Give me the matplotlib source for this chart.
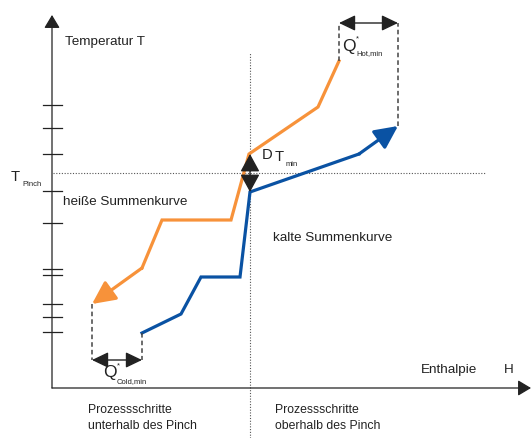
import matplotlib.pyplot as plt
from matplotlib.patches import ArrowStyle

plt.rcParams['font.family'] = ['Liberation Sans', 'DejaVu Sans']

# hot composite curve (H, T), drawn from hot end to cold end
hot_H = [339, 318, 249, 231, 162, 142, 92]
hot_T = [377, 331, 284, 218, 218, 170, 134]
# cold composite curve
cold_H = [142, 181, 201, 240, 250, 359, 398]
cold_T = [105, 124, 161, 161, 246, 284, 312]
# tick marks on the temperature axis
tick_T = [333, 310, 284, 247, 215, 169, 163, 134, 121, 106]
T_pinch = 265
H_pinch = 250

orange = '#f7923a'
blue = '#0a52a3'
dark = '#222222'

fig = plt.figure(figsize=(5.31, 4.38), dpi=100)
ax = fig.add_axes([0, 0, 1, 1])
ax.set_xlim(0, 531)
ax.set_ylim(0, 438)
ax.axis('off')

# axes with arrows
ax.annotate('', xy=(52, 423), xytext=(52, 50),
            arrowprops=dict(arrowstyle=ArrowStyle('-|>', head_length=0.4, head_width=0.24),
                            mutation_scale=20, lw=0.9, color=dark, shrinkA=0, shrinkB=0))
ax.annotate('', xy=(531, 50), xytext=(52, 50),
            arrowprops=dict(arrowstyle=ArrowStyle('-|>', head_length=0.4, head_width=0.24),
                            mutation_scale=20, lw=0.9, color=dark, shrinkA=0, shrinkB=0))
for t in tick_T:
    ax.plot([43, 62], [t, t], color=dark, lw=0.9)

# pinch lines
ax.plot([53, 486], [T_pinch, T_pinch], color='#555555', lw=0.8, ls=(0, (1, 1.5)))
ax.plot([H_pinch, H_pinch], [0, 386], color='#555555', lw=0.8, ls=(0, (1, 1.5)))

# composite curves
big = ArrowStyle('-|>', head_length=0.7, head_width=0.34)
ax.plot(hot_H[:-1], hot_T[:-1], color=orange, lw=2.3, solid_joinstyle='miter')
ax.annotate('', xy=(hot_H[-1], hot_T[-1]), xytext=(hot_H[-2], hot_T[-2]),
            arrowprops=dict(arrowstyle=big, mutation_scale=20, lw=2.3, color=orange,
                            shrinkA=0, shrinkB=0))
ax.plot(cold_H[:-1], cold_T[:-1], color=blue, lw=2.3, solid_joinstyle='miter')
ax.annotate('', xy=(cold_H[-1], cold_T[-1]), xytext=(cold_H[-2], cold_T[-2]),
            arrowprops=dict(arrowstyle=big, mutation_scale=20, lw=2.3, color=blue,
                            shrinkA=0, shrinkB=0))

# Q cold min / Q hot min
dbl = ArrowStyle('<|-|>', head_length=0.5, head_width=0.24)
ax.plot([hot_H[-1], hot_H[-1]], [hot_T[-1], 78], color='#444444', lw=1.1, ls=(0, (3, 2)))
ax.plot([cold_H[0], cold_H[0]], [cold_T[0], 78], color='#444444', lw=1.1, ls=(0, (3, 2)))
ax.annotate('', xy=(hot_H[-1], 78), xytext=(cold_H[0], 78),
            arrowprops=dict(arrowstyle=dbl, mutation_scale=20, lw=1, color=dark,
                            shrinkA=0, shrinkB=0))
ax.plot([hot_H[0], hot_H[0]], [hot_T[0], 415], color='#444444', lw=1.1, ls=(0, (3, 2)))
ax.plot([cold_H[-1], cold_H[-1]], [cold_T[-1], 415], color='#444444', lw=1.1, ls=(0, (3, 2)))
ax.annotate('', xy=(hot_H[0], 415), xytext=(cold_H[-1], 415),
            arrowprops=dict(arrowstyle=dbl, mutation_scale=20, lw=1, color=dark,
                            shrinkA=0, shrinkB=0))

# delta T min
dT = ArrowStyle('<|-|>', head_length=0.55, head_width=0.3)
ax.annotate('', xy=(H_pinch, 284), xytext=(H_pinch, 246),
            arrowprops=dict(arrowstyle=dT, mutation_scale=20, lw=1, color=dark,
                            shrinkA=0, shrinkB=0))

fs = 9.7
sub = 5.5
kw = dict(color=dark, va='center', ha='left')
ax.text(65, 396, 'Temperatur T', fontsize=fs, **kw)
ax.text(11, 261, 'T', fontsize=fs + 1, **kw)
ax.text(22, 254, 'Pinch', fontsize=sub, **kw)
ax.text(63, 236, 'heiße Summenkurve', fontsize=fs, **kw)
ax.text(273, 200, 'kalte Summenkurve', fontsize=fs, **kw)
ax.text(421, 68, 'Enthalpie', fontsize=fs, **kw)
ax.text(504, 68, 'H', fontsize=fs, **kw)
ax.text(88, 20, 'Prozessschritte\nunterhalb des Pinch', fontsize=8.8, linespacing=1.45, **kw)
ax.text(275, 20, 'Prozessschritte\noberhalb des Pinch', fontsize=8.8, linespacing=1.45, **kw)

ax.text(103, 65, 'Q', fontsize=12.5, **kw)
ax.text(117, 72, '*', fontsize=sub, **kw)
ax.text(117, 56, 'Cold,min', fontsize=sub, **kw)
ax.text(342, 391, 'Q', fontsize=12.5, **kw)
ax.text(356, 399, '*', fontsize=sub, **kw)
ax.text(356, 384, 'Hot,min', fontsize=sub, **kw)

ax.text(262, 283, 'D', fontsize=fs + 1, **kw)
ax.text(275, 281, 'T', fontsize=fs + 1, **kw)
ax.text(286, 273, 'min', fontsize=sub, **kw)

fig.savefig('out.png', dpi=100)
